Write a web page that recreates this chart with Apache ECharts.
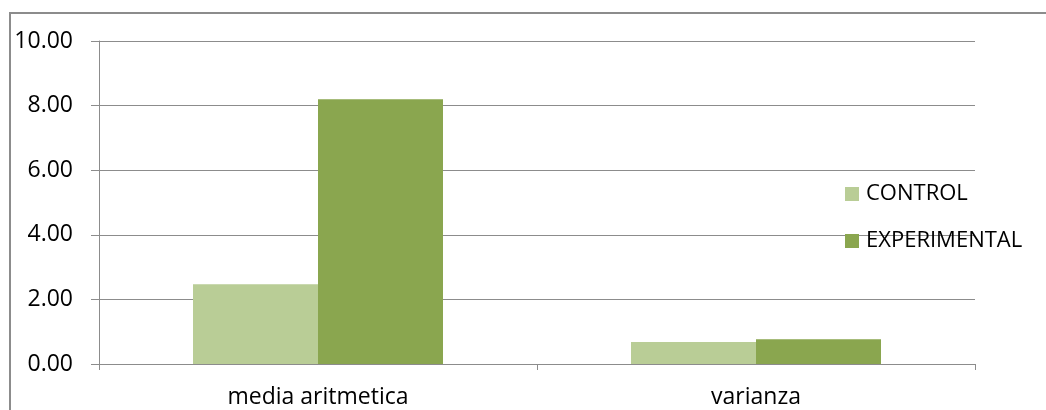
<!DOCTYPE html>
<html><head><meta charset="utf-8">
<script src="https://cdn.jsdelivr.net/npm/echarts@6/dist/echarts.min.js"></script>
<style>html,body{margin:0;padding:0;background:#fff}#c{width:1046px;height:410px}</style>
</head><body><div id="c"></div>
<script>
const categories = ['media aritmetica', 'varianza'];
const controlValues = [2.47, 0.68];
const experimentalValues = [8.20, 0.77];
const seriesNames = ['CONTROL', 'EXPERIMENTAL'];
const FONT = '"Open Sans", "Noto Sans", sans-serif';
const chart = echarts.init(document.getElementById('c'));
chart.setOption({
  animation: false,
  textStyle: { fontFamily: FONT },
  graphic: [{ type: 'rect', shape: { x: 10, y: 13, width: 1100, height: 500 }, style: { fill: 'none', stroke: '#8c8c8c', lineWidth: 2 } }],
  grid: { left: 99, right: 71, top: 41, bottom: 46 },
  legend: {
    orient: 'vertical', left: 840, top: 178, itemWidth: 14, itemHeight: 14, itemGap: 25, icon: 'rect',
    textStyle: { fontSize: 22, color: '#000', fontFamily: FONT, padding: [0, 0, 0, 2] },
    data: seriesNames
  },
  xAxis: {
    type: 'category', data: categories,
    axisLine: { lineStyle: { color: '#8c8c8c', width: 1 } },
    axisTick: { show: true, length: 6, lineStyle: { color: '#8c8c8c' } },
    axisLabel: { color: '#000', fontSize: 23, margin: 22, fontFamily: FONT }
  },
  yAxis: {
    type: 'value', min: 0, max: 10, interval: 2,
    axisLine: { show: true, lineStyle: { color: '#8c8c8c', width: 1 } },
    axisTick: { show: true, length: 8, lineStyle: { color: '#8c8c8c' } },
    splitLine: { lineStyle: { color: '#8c8c8c', width: 1 } },
    axisLabel: { color: '#000', fontSize: 23, margin: 26, fontFamily: FONT, formatter: v => v.toFixed(2) }
  },
  series: [
    { name: seriesNames[0], type: 'bar', data: controlValues, barWidth: 125, barGap: '0%', itemStyle: { color: '#b9cd96' } },
    { name: seriesNames[1], type: 'bar', data: experimentalValues, barWidth: 125, barGap: '0%', itemStyle: { color: '#8aa64f' } }
  ]
});
</script></body></html>
